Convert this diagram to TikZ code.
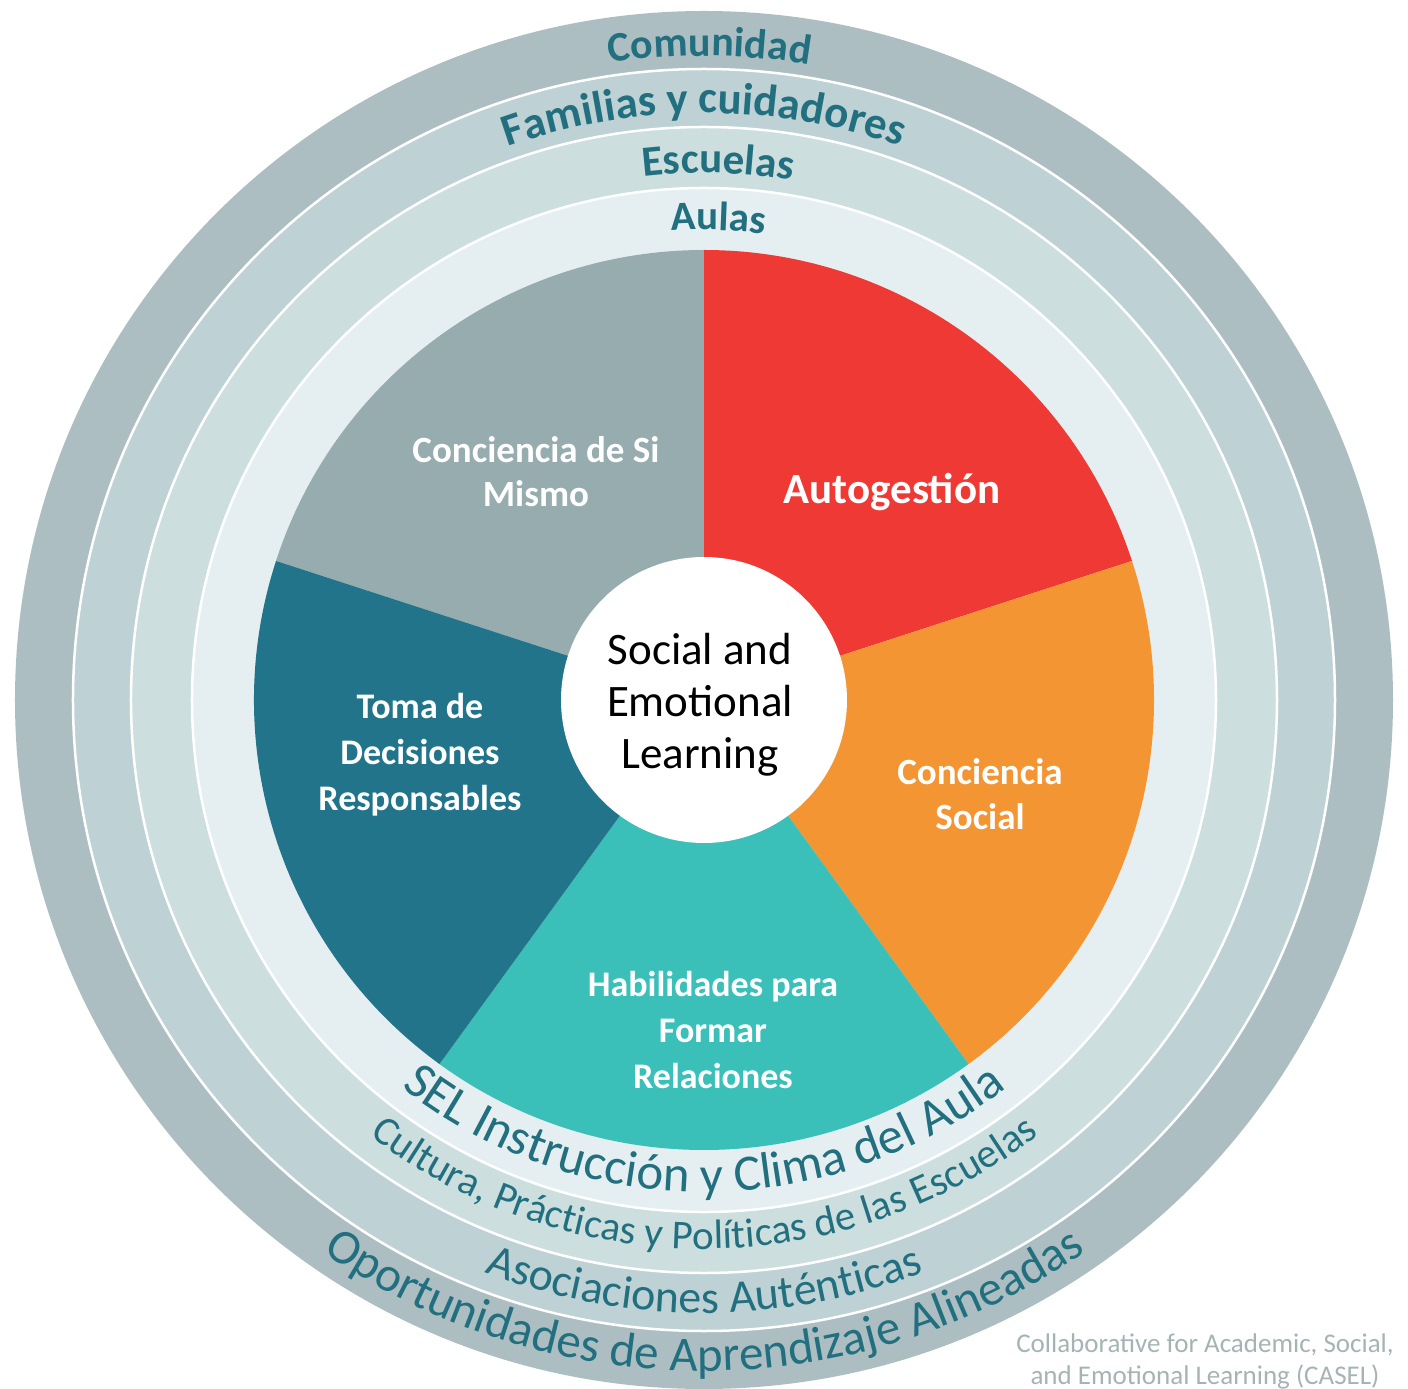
\documentclass[tikz,border=0pt]{standalone}
\usepackage{fontspec}
\setmainfont{Carlito}
\usetikzlibrary{decorations.text}
\definecolor{ringA}{HTML}{ADBEC2}
\definecolor{ringB}{HTML}{BED1D4}
\definecolor{ringC}{HTML}{CCDEDE}
\definecolor{ringD}{HTML}{E5EFF1}
\definecolor{secGray}{HTML}{96ACAE}
\definecolor{secRed}{HTML}{EE3935}
\definecolor{secOrange}{HTML}{F49533}
\definecolor{secTeal}{HTML}{3BBFB9}
\definecolor{secDark}{HTML}{22748A}
\definecolor{ringText}{HTML}{22707F}
\definecolor{capGray}{HTML}{A6B3B5}
\tikzset{
  ringline/.style={draw=white, line width=2.5pt},
  pielabel/.style={text=white, align=center, font=\bfseries\fontsize{36}{46}\selectfont},
}
\newcommand{\toplabel}[5]{% radius, size, half-angle, offset, text
  \path[decorate, decoration={text along path, text align=center,
      text={|\bfseries\fontsize{#2}{#2}\selectfont\color{ringText}|#5}}]
    (90+#3+#4:#1) arc[start angle=90+#3+#4, end angle=90-#3+#4, radius=#1];}
\newcommand{\bottomlabel}[4]{% radius, size, half-angle, text
  \path[decorate, decoration={text along path, text align=center,
      text={|\fontsize{#2}{#2}\selectfont\color{ringText}|#4}}]
    (-90-#3:#1) arc[start angle=-90-#3, end angle=-90+#3, radius=#1];}
\begin{document}
\begin{tikzpicture}[x=1pt,y=1pt]
\useasboundingbox (-704,-689) rectangle (704,700);
% rings
\fill[ringA] (0,0) circle (689);
\filldraw[fill=ringB, ringline] (0,0) circle (631);
\filldraw[fill=ringC, ringline] (0,0) circle (573);
\filldraw[fill=ringD, ringline] (0,0) circle (512);
% sectors
\fill[secGray]   (0,0) -- (90:450)  arc[start angle=90,  end angle=162, radius=450] -- cycle;
\fill[secRed]    (0,0) -- (18:450)  arc[start angle=18,  end angle=90,  radius=450] -- cycle;
\fill[secOrange] (0,0) -- (-54:450) arc[start angle=-54, end angle=18,  radius=450] -- cycle;
\fill[secTeal]   (0,0) -- (-126:450) arc[start angle=-126, end angle=-54, radius=450] -- cycle;
\fill[secDark]   (0,0) -- (162:450) arc[start angle=162, end angle=234, radius=450] -- cycle;
% centre
\node[circle, fill=white, minimum size=286pt, inner sep=0pt] (core) at (0,0) {};
\node[align=center, text=black, font=\fontsize{45}{52}\selectfont] (sel) at (-4,-5)
  {Social and\\Emotional\\Learning};
% sector labels
\node[pielabel, font=\bfseries\fontsize{37}{44}\selectfont] (selfaware) at (-168,228) {Conciencia de Si\\Mismo};
\node[pielabel, font=\bfseries\fontsize{43}{46}\selectfont] (selfman) at (188,208) {Autogestión};
\node[pielabel, font=\bfseries\fontsize{37}{45}\selectfont] (social) at (276,-94) {Conciencia\\Social};
\node[pielabel] (decision) at (-284,-55) {Toma de\\Decisiones\\Responsables};
\node[pielabel] (relation) at (9,-330) {Habilidades para\\Formar\\Relaciones};
% top ring labels
\toplabel{644}{42}{25}{-0.5}{Comunidad}
\toplabel{587}{45}{35}{0}{Familias y cuidadores}
\toplabel{527}{43}{25}{-1.5}{Escuelas}
\toplabel{470}{41}{20}{-1.7}{Aulas}
% bottom ring labels
\bottomlabel{492}{51}{55}{SEL Instrucción y Clima del Aula}
\bottomlabel{549}{41}{50}{Cultura, Prácticas y Políticas de las Escuelas}
\bottomlabel{613}{46}{40}{Asociaciones Auténticas}
\bottomlabel{671}{49}{45}{Oportunidades de Aprendizaje Alineadas}
% caption
\node[align=center, text=capGray, font=\fontsize{27}{32}\selectfont, anchor=base] (casel) at (501,-684)
  {Collaborative for Academic, Social,\\and Emotional Learning (CASEL)};
\end{tikzpicture}
\end{document}
